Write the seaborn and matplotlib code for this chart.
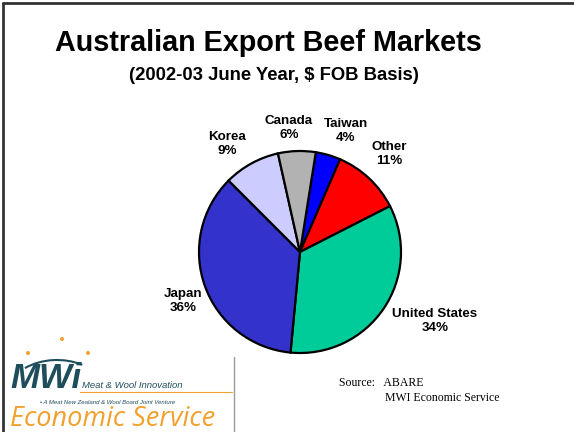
import matplotlib
matplotlib.use("Agg")
import matplotlib.pyplot as plt
from matplotlib.lines import Line2D
from matplotlib.patches import Arc, Circle
import seaborn as sns

# ---- data ----
markets = ["Taiwan", "Other", "United States", "Japan", "Korea", "Canada"]
shares = [4, 11, 34, 36, 9, 6]
slice_colors = ["#0000FF", "#FF0000", "#00CC99", "#3333CC", "#CCCCFF", "#B2B2B2"]
title = "Australian Export Beef Markets"
subtitle = "(2002-03 June Year, $ FOB Basis)"
source_lines = ["Source:   ABARE", "MWI Economic Service"]

# label positions (pixel coords, y from top) - styling
label_pos = {
    "Taiwan": (346, 131),
    "Other": (389, 154),
    "United States": (435, 321),
    "Japan": (183, 301),
    "Korea": (227, 144),
    "Canada": (289, 128),
}

sns.set_theme(style="white")
plt.rcParams["font.family"] = ["Liberation Sans", "DejaVu Sans"]

W, H = 574, 432
fig = plt.figure(figsize=(W / 100, H / 100), dpi=100)
fig.patch.set_facecolor("white")
ax = fig.add_axes([0, 0, 1, 1])

palette = sns.color_palette(slice_colors)
wedges, _ = ax.pie(
    shares,
    colors=palette,
    startangle=81,
    counterclock=False,
    center=(300, H - 252),
    radius=101,
    wedgeprops=dict(edgecolor="black", linewidth=1.6),
)
ax.set_xlim(0, W)
ax.set_ylim(0, H)
ax.set_aspect("auto")
ax.axis("off")

for name, val in zip(markets, shares):
    x, y = label_pos[name]
    ax.text(x, H - y, f"{name}\n{val}%", ha="center", va="center",
            fontsize=9.6, fontweight="bold", linespacing=1.2, color="black")

# title
ax.text(268, H - 43, title, ha="center", va="center", fontsize=20.7,
        fontweight="bold", color="black")
ax.text(274, H - 76, subtitle, ha="center", va="center", fontsize=13.3,
        fontweight="bold", color="black")

# source
ax.text(339, H - 383, source_lines[0], ha="left", va="center", fontsize=8.5,
        family="Liberation Serif", color="black")
ax.text(385, H - 398, source_lines[1], ha="left", va="center", fontsize=8.5,
        family="Liberation Serif", color="black")

# slide frame (top and left)
fig.add_artist(Line2D([3 / W, 1], [1 - 3 / H, 1 - 3 / H], color="#333333", lw=2))
fig.add_artist(Line2D([3 / W, 3 / W], [0, 1 - 3 / H], color="#333333", lw=2))

# logo approximation
teal = "#1E4D5C"
orange = "#F2A02E"
ax.plot([234, 234], [0, H - 357], color="#999999", lw=1)
for (dx, dy) in [(28, 353), (62, 339), (88, 353)]:
    ax.add_patch(Circle((dx, H - dy), 2.0, color=orange, lw=0))
ax.add_patch(Arc((57, H - 395), 100, 70, theta1=50, theta2=140, color=teal, lw=1.5))
ax.text(10, H - 379, "MWi", ha="left", va="center", fontsize=25, style="italic",
        fontweight="bold", color=teal)
ax.text(82, H - 385, "Meat & Wool Innovation", ha="left", va="center", fontsize=6.8,
        style="italic", color=teal)
ax.plot([80, 232], [H - 392, H - 392], color=orange, lw=0.8)
ax.text(40, H - 402, "\u2022 A Meat New Zealand & Wool Board Joint Venture", ha="left",
        va="center", fontsize=4.3, style="italic", color=teal)
ax.text(10, H - 419, "Economic Service", ha="left", va="center", fontsize=19.5,
        style="italic", color=orange, family="Open Sans")

fig.savefig("out.png", dpi=100, facecolor="white")
